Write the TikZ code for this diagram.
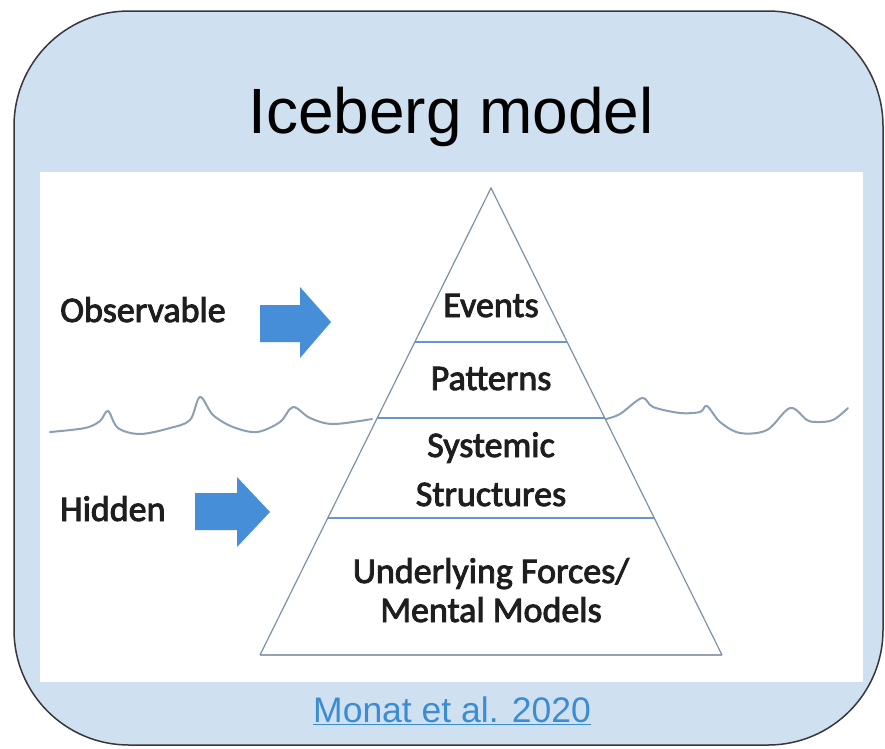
\documentclass[tikz,border=0pt]{standalone}
\usepackage{fontspec}
\setmainfont{Carlito}
\newfontfamily\lblfont{Carlito}[UprightFeatures={FakeBold=2.5}]
\newfontfamily\helv{Liberation Sans}
\usetikzlibrary{calc}
\definecolor{panelblue}{RGB}{207,224,241}
\definecolor{framegray}{RGB}{55,55,60}
\definecolor{edgegray}{RGB}{125,145,165}
\definecolor{levelblue}{RGB}{105,150,200}
\definecolor{basegray}{RGB}{150,162,175}
\definecolor{arrowblue}{RGB}{70,142,216}
\definecolor{wavegray}{RGB}{140,160,178}
\definecolor{citeblue}{RGB}{60,140,210}
\definecolor{textdark}{RGB}{30,30,30}
\tikzset{
  lbl/.style={font=\lblfont\fontsize{36}{44}\selectfont, text=textdark, inner sep=0pt, align=center},
  tedge/.style={draw=edgegray, line width=1.2pt},
  levelline/.style={draw=levelblue, line width=2.6pt},
  baseline line/.style={draw=basegray, line width=2.6pt},
  blockarrow/.style={fill=arrowblue, draw=none},
  wave/.style={draw=wavegray, line width=2pt, line join=round, line cap=round}
}
\begin{document}
\begin{tikzpicture}[x=1pt,y=-1pt]
\useasboundingbox (0,0) rectangle (885,748);
\fill[white] (0,0) rectangle (885,748);
% outer rounded panel
\draw[fill=panelblue, draw=framegray, line width=1.5pt, rounded corners=115pt] (14,11) rectangle (883,745);
% title
\node[font=\helv\fontsize{64}{70}\selectfont, text=black, anchor=base, inner sep=0pt] (title) at (451,133) {Iceberg model};
% white inner panel
\fill[white] (40,172) rectangle (863,682);
% water line (left)
\draw[wave] plot[smooth, tension=0.55] coordinates {(50,432) (85,428) (100,421) (108,411) (118,428) (140,434) (170,428) (190,420) (200,397) (213,415) (233,427) (257,432) (280,422) (293,407) (310,418) (333,424) (372,419)};
% water line (right)
\draw[wave] plot[smooth, tension=0.55] coordinates {(606,419) (620,414) (642,398) (653,407) (680,413) (700,412) (707,406) (720,422) (740,433) (767,430) (790,408) (807,420) (817,422) (833,420) (848,408)};
% triangle
\coordinate (apex) at (491,188);
\coordinate (bl) at (260,655);
\coordinate (br) at (722,655);
\coordinate (l1) at ($(apex)!0.3298!(bl)$);
\coordinate (r1) at ($(apex)!0.3298!(br)$);
\coordinate (l2) at ($(apex)!0.4925!(bl)$);
\coordinate (r2) at ($(apex)!0.4925!(br)$);
\coordinate (l3) at ($(apex)!0.7066!(bl)$);
\coordinate (r3) at ($(apex)!0.7066!(br)$);
\draw[levelline] (l1) -- (r1);
\draw[levelline] (l2) -- (r2);
\draw[levelline] (l3) -- (r3);
\draw[baseline line] (bl) -- (br);
\draw[tedge] (bl) -- (apex) -- (br);
% labels
\node[lbl, anchor=base] (events) at (491,317) {Events};
\node[lbl, anchor=base] (patterns) at (491,390) {Patterns};
\node[lbl, anchor=base] (systemic) at (491,457) {Systemic};
\node[lbl, anchor=base] (structures) at (491,506) {Structures};
\node[lbl, anchor=base] (underlying) at (491,583) {Underlying Forces/};
\node[lbl, anchor=base] (mental) at (491,622) {Mental Models};
\node[lbl, anchor=base west] (observable) at (60,322) {Observable};
\node[lbl, anchor=base west] (hidden) at (60,521) {Hidden};
% block arrows
\fill[blockarrow] (260,305) -- (300,305) -- (300,287) -- (331,322) -- (300,358) -- (300,342) -- (260,342) -- cycle;
\fill[blockarrow] (195,493) -- (237,493) -- (237,477) -- (270,512) -- (237,547) -- (237,530) -- (195,530) -- cycle;
% citation
\node[font=\helv\fontsize{35.5}{40}\selectfont, text=citeblue, anchor=base, inner sep=0pt] (cite) at (452,722) {\underline{Monat et al. 2020}};
\end{tikzpicture}
\end{document}
